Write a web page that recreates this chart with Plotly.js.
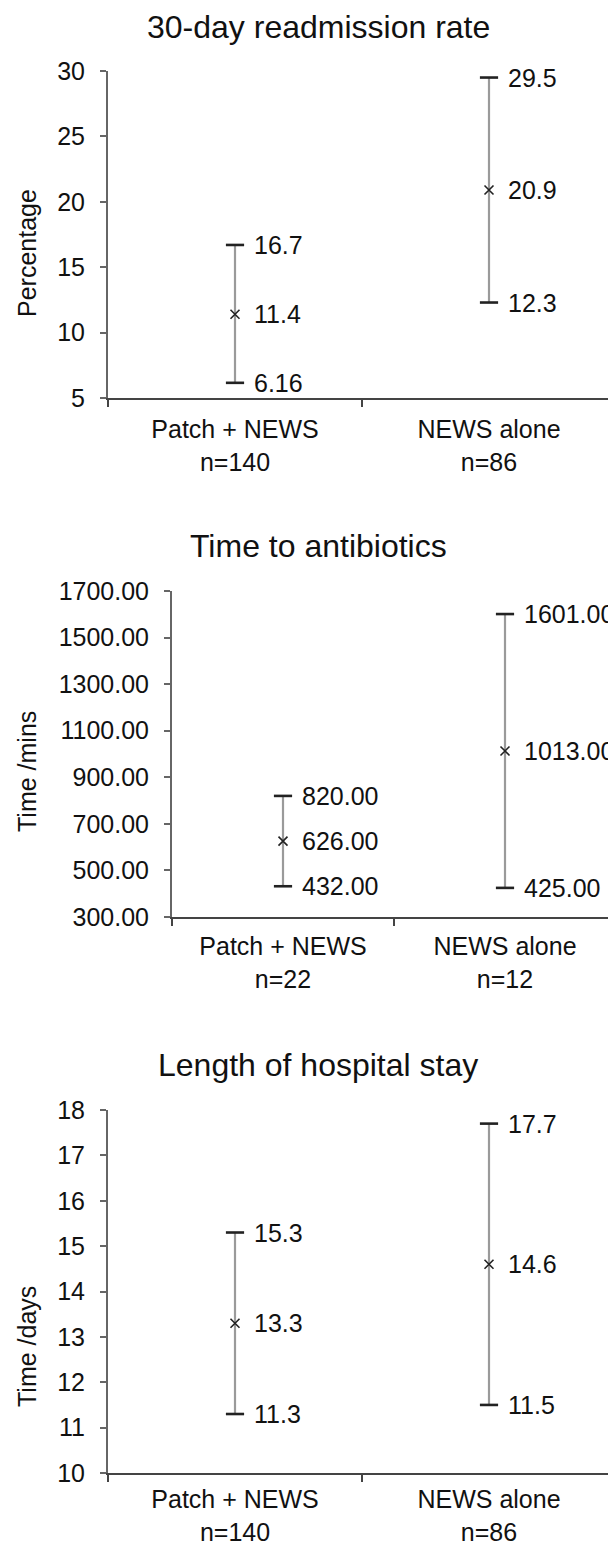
<!DOCTYPE html>
<html>
<head>
<meta charset="utf-8">
<script src="https://cdn.plot.ly/plotly-3.0.1.min.js"></script>
<style>html,body{margin:0;padding:0;background:#fff;}#chart{width:608px;height:1544px;}</style>
</head>
<body>
<div id="chart"></div>
<script>
// ---- data ----
const categories = ['Patch + NEWS', 'NEWS alone'];

const readmitTitle = '30-day readmission rate';
const readmitYLabel = 'Percentage';
const readmitN = ['n=140', 'n=86'];
const readmitMean = [11.4, 20.9];
const readmitLow = [6.16, 12.3];
const readmitHigh = [16.7, 29.5];
const readmitTicks = [5, 10, 15, 20, 25, 30];

const abxTitle = 'Time to antibiotics';
const abxYLabel = 'Time /mins';
const abxN = ['n=22', 'n=12'];
const abxMean = [626, 1013];
const abxLow = [432, 425];
const abxHigh = [820, 1601];
const abxTicks = [300, 500, 700, 900, 1100, 1300, 1500, 1700];

const stayTitle = 'Length of hospital stay';
const stayYLabel = 'Time /days';
const stayN = ['n=140', 'n=86'];
const stayMean = [13.3, 14.6];
const stayLow = [11.3, 11.5];
const stayHigh = [15.3, 17.7];
const stayTicks = [10, 11, 12, 13, 14, 15, 16, 17, 18];

// ---- layout geometry (pixels) ----
const W = 608, H = 1544;
const FONT = 'Liberation Sans, Arial, sans-serif';
const FS = 25;
const panels = [
  {title: readmitTitle, ylab: readmitYLabel, n: readmitN, mean: readmitMean, lo: readmitLow, hi: readmitHigh,
   ticks: readmitTicks, fmt: v => String(v), tfmt: v => String(v), yr: [5, 30],
   left: 108, top: 71, bottom: 398, step: 254, titleY: 27, ylabY: 253, xstand: 8},
  {title: abxTitle, ylab: abxYLabel, n: abxN, mean: abxMean, lo: abxLow, hi: abxHigh,
   ticks: abxTicks, fmt: v => v.toFixed(2), tfmt: v => v.toFixed(2), yr: [300, 1700],
   left: 172, top: 591, bottom: 917, step: 222, titleY: 546, ylabY: 772, xstand: 6},
  {title: stayTitle, ylab: stayYLabel, n: stayN, mean: stayMean, lo: stayLow, hi: stayHigh,
   ticks: stayTicks, fmt: v => String(v), tfmt: v => String(v), yr: [10, 18],
   left: 108, top: 1110, bottom: 1473, step: 254, titleY: 1065, ylabY: 1347, xstand: 3}
];

const data = [];
const layout = {
  width: W, height: H,
  margin: {l: 0, r: 0, t: 0, b: 0, pad: 0},
  paper_bgcolor: '#fff', plot_bgcolor: '#fff',
  showlegend: false,
  font: {family: FONT, color: '#111', size: FS},
  annotations: []
};

panels.forEach((p, i) => {
  const k = i === 0 ? '' : String(i + 1);
  const xa = 'x' + k, ya = 'y' + k;
  const cats = categories.map((c, j) => c + '<br>' + p.n[j]);

  // whiskers + mean markers
  data.push({
    type: 'scatter', mode: 'markers', xaxis: xa, yaxis: ya,
    x: cats, y: p.mean,
    marker: {symbol: 'x-thin', size: 9, color: '#222', line: {width: 1.6, color: '#222'}},
    error_y: {type: 'data', symmetric: false,
      array: p.hi.map((h, j) => h - p.mean[j]),
      arrayminus: p.lo.map((l, j) => p.mean[j] - l),
      color: '#9a9a9a', thickness: 2.2, width: 0},
    hoverinfo: 'skip'
  });
  // caps
  data.push({
    type: 'scatter', mode: 'markers', xaxis: xa, yaxis: ya,
    x: cats.concat(cats), y: p.lo.concat(p.hi),
    marker: {symbol: 'line-ew', size: 13, color: '#222', line: {width: 2.6, color: '#222'}},
    hoverinfo: 'skip'
  });

  const span = (W - p.left) / p.step;
  layout['xaxis' + k] = {
    domain: [p.left / W, 1], anchor: ya, type: 'category',
    range: [-0.5, -0.5 + span], fixedrange: true,
    showline: true, linecolor: '#444', linewidth: 2,
    ticks: 'outside', tickson: 'boundaries', ticklen: 7, tickwidth: 2, tickcolor: '#444',
    ticklabelstandoff: p.xstand,
    showgrid: false, zeroline: false,
    tickfont: {family: FONT, size: FS, color: '#111'}
  };
  layout['yaxis' + k] = {
    domain: [1 - p.bottom / H, 1 - p.top / H], anchor: xa,
    range: p.yr, fixedrange: true,
    tickmode: 'array', tickvals: p.ticks, ticktext: p.ticks.map(p.tfmt),
    showline: true, linecolor: '#666', linewidth: 2,
    ticks: 'outside', ticklen: 6, tickwidth: 2, tickcolor: '#666',
    ticklabelstandoff: 10,
    showgrid: false, zeroline: false,
    tickfont: {family: FONT, size: FS, color: '#111'}
  };

  // value labels
  ['lo', 'mean', 'hi'].forEach(key => {
    p[key].forEach((v, j) => {
      layout.annotations.push({
        xref: xa, yref: ya, x: j, y: v, text: p.fmt(v),
        showarrow: false, xanchor: 'left', yanchor: 'middle', xshift: 17,
        font: {family: FONT, size: FS, color: '#111'}
      });
    });
  });
  // panel title
  layout.annotations.push({
    xref: 'paper', yref: 'paper', x: 318 / W, y: 1 - p.titleY / H,
    text: p.title, showarrow: false, xanchor: 'center', yanchor: 'middle',
    font: {family: FONT, size: 32, color: '#111'}
  });
  // y axis title
  layout.annotations.push({
    xref: 'paper', yref: 'paper', x: 27 / W, y: 1 - p.ylabY / H,
    text: p.ylab, showarrow: false, textangle: -90, xanchor: 'center', yanchor: 'middle',
    font: {family: FONT, size: FS, color: '#111'}
  });
});

Plotly.newPlot('chart', data, layout, {staticPlot: true, displayModeBar: false});
</script>
</body>
</html>
